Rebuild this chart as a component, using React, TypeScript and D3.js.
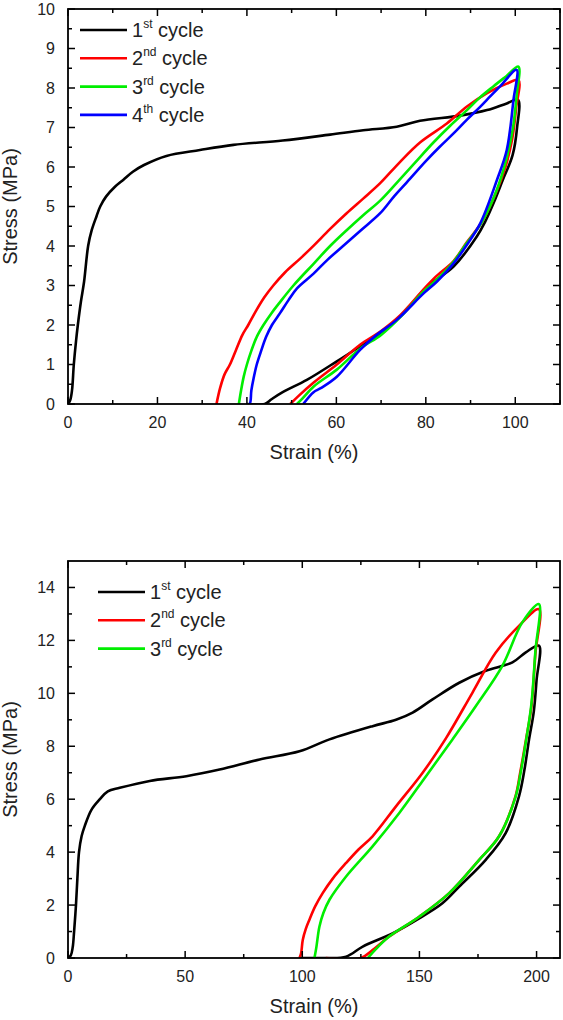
import React from "react";
import * as d3 from "d3";

type Pt = [number, number];

// ---- Top chart (strain up to 100 %) ----
const topCycle1: Pt[] = [
  [0, 0], [0.5, 0.1], [0.9, 0.35], [1.3, 1.0], [1.8, 1.6], [2.2, 2.0], [2.9, 2.6], [3.6, 3.1],
  [4.5, 4.0], [5.3, 4.4], [6.4, 4.76], [7.2, 5.0], [8.5, 5.25], [10.5, 5.5], [12.4, 5.68],
  [14.5, 5.88], [17, 6.05], [22, 6.28], [29.5, 6.43], [37, 6.56],
  [48, 6.67], [58.6, 6.82], [66, 6.93], [73.5, 7.02], [78.7, 7.17], [87.7, 7.3], [93.7, 7.44],
  [98.1, 7.61], [100.6, 7.7],
  [100.4, 7.0], [99.4, 6.3], [97.2, 5.67], [95.2, 5.1], [93.2, 4.6], [91.4, 4.24], [86.2, 3.48],
  [80.3, 2.97], [75, 2.3], [69.8, 1.79], [65.3, 1.46], [60.1, 1.08], [53.4, 0.61], [48, 0.3],
  [45.5, 0.12], [44, 0], [40, 0],
];
const topCycle2: Pt[] = [
  [33.2, 0], [34, 0.4], [35, 0.75], [36.2, 1.0], [37.5, 1.35], [39, 1.75], [40.3, 2.0],
  [42, 2.35], [43.9, 2.7], [45.9, 3.0], [48.5, 3.33], [51.9, 3.68], [55.1, 4.03], [58.5, 4.42],
  [62.3, 4.83], [66, 5.2], [69.8, 5.59], [74, 6.1], [78.7, 6.62], [84.7, 7.1], [89.2, 7.53],
  [93.7, 7.87], [98.1, 8.11], [100.7, 8.2],
  [100.2, 7.5], [99.3, 6.7], [97.8, 6.0], [95.5, 5.3], [92.5, 4.6], [89.2, 4.1], [86.2, 3.62],
  [82, 3.2], [79.5, 2.9], [74.3, 2.25], [70, 1.85], [65.3, 1.5], [60.1, 1.0], [55, 0.55],
  [51.5, 0.2], [49.7, 0],
];
const topCycle3: Pt[] = [
  [38.2, 0], [38.7, 0.35], [39.3, 0.7], [40, 1.0], [41, 1.35], [42.2, 1.7], [43.7, 2.0],
  [45.5, 2.3], [47.4, 2.58], [50.4, 3.0], [54.9, 3.55], [58.6, 4.0], [62.3, 4.4], [66, 4.78],
  [69.8, 5.15], [73.5, 5.6], [77.5, 6.1], [81.7, 6.62], [85.5, 7.05], [89.2, 7.44], [92, 7.75],
  [95.1, 8.04], [98, 8.3], [100.7, 8.54],
  [100.3, 7.8], [99.5, 7.0], [98, 6.2], [95.8, 5.4], [92.5, 4.6], [89, 4.05], [86.2, 3.6],
  [82, 3.1], [79.5, 2.85], [74.3, 2.2], [70, 1.75], [65.3, 1.4], [60.1, 0.87], [55, 0.45],
  [52.5, 0.15], [51.2, 0],
];
const topCycle4: Pt[] = [
  [39.9, 0], [40.6, 0], [41.0, 0.35], [41.5, 0.65], [42.2, 1.0], [43.2, 1.35], [44.3, 1.7],
  [45.6, 2.0], [47.4, 2.3], [49.3, 2.63], [51.2, 2.93], [54.9, 3.3], [58, 3.65], [61.5, 4.0],
  [65.5, 4.4], [69.8, 4.83], [73, 5.27], [75.8, 5.62], [80, 6.15], [83, 6.5], [86.2, 6.85],
  [89.2, 7.2], [92.2, 7.53], [94.5, 7.8], [96.6, 8.04], [100.3, 8.46],
  [99.6, 7.7], [98.1, 6.43], [95.9, 5.67], [92.2, 4.58], [89, 4.0], [86.2, 3.56], [82.5, 3.1],
  [79.5, 2.8], [73.5, 2.13], [69, 1.75], [65.3, 1.37], [60.1, 0.69], [56.5, 0.4], [54.9, 0.3],
  [52.6, 0],
];

// ---- Bottom chart (strain up to 200 %) ----
const botCycle1: Pt[] = [
  [0, 0], [1.2, 0.1], [2, 0.4], [2.6, 1.0], [3.4, 2.0], [4, 3.0], [4.7, 4.0], [5.8, 4.6],
  [7.2, 5.0], [10, 5.6], [13.6, 6.0], [17, 6.3], [22.1, 6.43], [34.9, 6.69], [50.5, 6.87],
  [64.7, 7.12], [81.8, 7.5], [98.8, 7.81], [111.6, 8.26], [130, 8.76], [140, 9.0],
  [147.1, 9.27], [155.6, 9.77], [167, 10.4], [178.3, 10.85], [189.7, 11.17], [195.4, 11.55],
  [201, 11.8],
  [200, 10.5], [198.8, 9.3], [196.8, 8.26], [194.8, 7.1], [192.5, 6.11], [186.8, 4.72],
  [178.3, 3.71], [167, 2.7], [159.8, 2.07], [149.9, 1.5], [138.5, 0.93], [125.8, 0.43],
  [118.7, 0.05], [110, 0], [99, 0],
];
const botCycle2: Pt[] = [
  [98.8, 0], [99.5, 0.18], [100.2, 0.68], [101.5, 1.1], [103, 1.44], [105.5, 1.95],
  [108.7, 2.45], [113, 3.0], [118.7, 3.59], [124, 4.1], [130, 4.6], [140, 5.73], [151.3, 6.99],
  [161.3, 8.3], [172.6, 10.02], [182.6, 11.54], [192.5, 12.55], [201, 13.18],
  [199.5, 11.5], [197.8, 9.5], [195.5, 8.26], [193, 7.0], [191, 6.11], [184, 4.6],
  [175.5, 3.71], [162.7, 2.45], [149.9, 1.56], [137.1, 0.81], [130, 0.3], [125, 0], [110, 0],
];
const botCycle3: Pt[] = [
  [105.2, 0], [106, 0.4], [107.3, 1.18], [109, 1.7], [111.6, 2.2], [118.7, 3.08], [130, 4.22],
  [141.4, 5.48], [152.8, 6.87], [164.1, 8.26], [174.1, 9.52], [185.4, 11.04], [193.9, 12.68],
  [201, 13.37],
  [199.5, 11.6], [197.8, 9.6], [195.6, 8.26], [193.2, 7.0], [191.1, 6.11], [184, 4.6],
  [175.5, 3.71], [162.7, 2.45], [149.9, 1.56], [137.1, 0.81], [131, 0.3], [128, 0],
];

const topXTicks = [0, 20, 40, 60, 80, 100];
const topXMinor = [10, 30, 50, 70, 90, 110];
const topYTicks = [0, 1, 2, 3, 4, 5, 6, 7, 8, 9, 10];
const topYMinor = [0.5, 1.5, 2.5, 3.5, 4.5, 5.5, 6.5, 7.5, 8.5, 9.5];
const botXTicks = [0, 50, 100, 150, 200];
const botXMinor = [25, 75, 125, 175];
const botYTicks = [0, 2, 4, 6, 8, 10, 12, 14];
const botYMinor = [1, 3, 5, 7, 9, 11, 13];

const topLegend = [
  { n: "1", sup: "st", color: "#000000" },
  { n: "2", sup: "nd", color: "#ff0000" },
  { n: "3", sup: "rd", color: "#00ee00" },
  { n: "4", sup: "th", color: "#0000ff" },
];
const botLegend = topLegend.slice(0, 3);

const FONT = "Arial, 'Liberation Sans', sans-serif";

type PanelProps = {
  xDomain: [number, number];
  yDomain: [number, number];
  xRange: [number, number];
  yRange: [number, number];
  xTicks: number[];
  xMinor: number[];
  yTicks: number[];
  yMinor: number[];
  series: { data: Pt[]; color: string }[];
  legend: { n: string; sup: string; color: string }[];
  legendX: number;
  legendY: number;
  xLabelY: number;
  xTickLabelY: number;
};

function Panel(p: PanelProps) {
  const x = d3.scaleLinear().domain(p.xDomain).range(p.xRange);
  const y = d3.scaleLinear().domain(p.yDomain).range(p.yRange);
  const line = d3
    .line<Pt>()
    .x((d) => x(d[0]))
    .y((d) => y(d[1]))
    .curve(d3.curveCatmullRom.alpha(0.5));
  const [x0, x1] = p.xRange;
  const [yb, yt] = p.yRange;
  const major = 7;
  const minor = 4;
  const tk = { stroke: "#000", strokeWidth: 1.5 };
  return (
    <g>
      <defs>
        <clipPath id={`clip${yb}`}>
          <rect x={x0} y={yt - 2} width={x1 - x0 + 2} height={yb - yt + 2} />
        </clipPath>
      </defs>
      <g clipPath={`url(#clip${yb})`}>
        {p.series.map((s, i) => (
          <path key={i} d={line(s.data) || ""} fill="none" stroke={s.color} strokeWidth={2.6} strokeLinejoin="round" />
        ))}
      </g>
      <rect x={x0} y={yt} width={x1 - x0} height={yb - yt} fill="none" stroke="#000" strokeWidth={1.8} />
      {p.xTicks.map((t) => (
        <g key={"xt" + t}>
          <line x1={x(t)} x2={x(t)} y1={yb} y2={yb - major} {...tk} />
          <line x1={x(t)} x2={x(t)} y1={yt} y2={yt + major} {...tk} />
          <text x={x(t)} y={p.xTickLabelY} textAnchor="middle" fontSize={16} fontFamily={FONT} fill="#222">
            {t}
          </text>
        </g>
      ))}
      {p.xMinor.map((t) => (
        <g key={"xm" + t}>
          <line x1={x(t)} x2={x(t)} y1={yb} y2={yb - minor} {...tk} />
          <line x1={x(t)} x2={x(t)} y1={yt} y2={yt + minor} {...tk} />
        </g>
      ))}
      {p.yTicks.map((t) => (
        <g key={"yt" + t}>
          <line x1={x0} x2={x0 + major} y1={y(t)} y2={y(t)} {...tk} />
          <line x1={x1} x2={x1 - major} y1={y(t)} y2={y(t)} {...tk} />
          <text x={x0 - 13} y={y(t) + 5.7} textAnchor="end" fontSize={16} fontFamily={FONT} fill="#222">
            {t}
          </text>
        </g>
      ))}
      {p.yMinor.map((t) => (
        <g key={"ym" + t}>
          <line x1={x0} x2={x0 + minor} y1={y(t)} y2={y(t)} {...tk} />
          <line x1={x1} x2={x1 - minor} y1={y(t)} y2={y(t)} {...tk} />
        </g>
      ))}
      <text
        transform={`translate(17,${(yb + yt) / 2}) rotate(-90)`}
        textAnchor="middle"
        fontSize={20}
        fontFamily={FONT}
        fill="#222"
      >
        Stress (MPa)
      </text>
      <text x={(x0 + x1) / 2} y={p.xLabelY} textAnchor="middle" fontSize={20} fontFamily={FONT} fill="#222">
        Strain (%)
      </text>
      {p.legend.map((l, i) => {
        const ly = p.legendY + i * 28.3;
        return (
          <g key={"lg" + i}>
            <line x1={p.legendX} x2={p.legendX + 47} y1={ly} y2={ly} stroke={l.color} strokeWidth={2.6} />
            <text x={p.legendX + 52} y={ly + 7} fontSize={20} fontFamily={FONT} fill="#222">
              {l.n}
              <tspan fontSize={12} dy={-9}>{l.sup}</tspan>
              <tspan dy={9}>{" cycle"}</tspan>
            </text>
          </g>
        );
      })}
    </g>
  );
}

export default function App() {
  return (
    <svg
      width={563}
      height={1020}
      style={{ position: "absolute", left: 0, top: 0, background: "#fff" }}
    >
      <rect x={0} y={0} width={563} height={1020} fill="#fff" />
      <Panel
        xDomain={[0, 110]}
        yDomain={[0, 10]}
        xRange={[68, 560]}
        yRange={[404, 9]}
        xTicks={topXTicks}
        xMinor={topXMinor}
        yTicks={topYTicks}
        yMinor={topYMinor}
        series={[
          { data: topCycle1, color: "#000000" },
          { data: topCycle2, color: "#ff0000" },
          { data: topCycle3, color: "#00ee00" },
          { data: topCycle4, color: "#0000ff" },
        ]}
        legend={topLegend}
        legendX={80}
        legendY={30}
        xLabelY={459}
        xTickLabelY={428}
      />
      <Panel
        xDomain={[0, 210]}
        yDomain={[0, 15]}
        xRange={[68, 560]}
        yRange={[958, 561]}
        xTicks={botXTicks}
        xMinor={botXMinor}
        yTicks={botYTicks}
        yMinor={botYMinor}
        series={[
          { data: botCycle1, color: "#000000" },
          { data: botCycle2, color: "#ff0000" },
          { data: botCycle3, color: "#00ee00" },
        ]}
        legend={botLegend}
        legendX={98}
        legendY={592}
        xLabelY={1013}
        xTickLabelY={981.5}
      />
    </svg>
  );
}
